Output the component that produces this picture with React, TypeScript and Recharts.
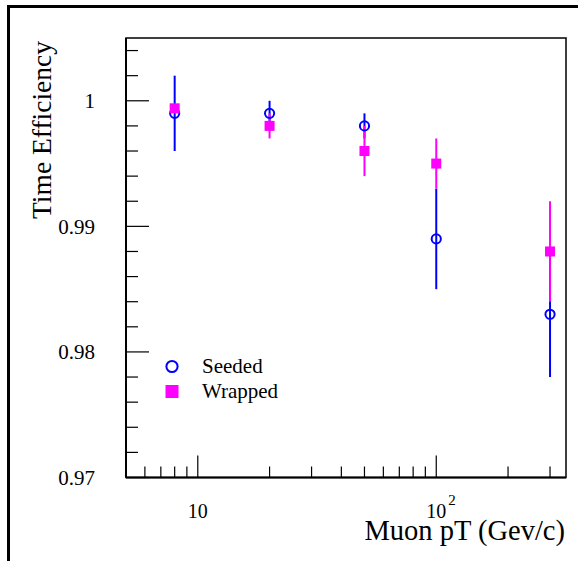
import {
  ComposedChart,
  ErrorBar,
  Legend,
  ReferenceArea,
  Scatter,
  XAxis,
  YAxis,
} from "recharts"

const PT = [8, 20, 50, 100, 300]
const SEEDED = [0.999, 0.999, 0.998, 0.989, 0.983]
const SEEDED_ERR = [0.003, 0.001, 0.001, 0.004, 0.005]
const WRAPPED = [0.9994, 0.998, 0.996, 0.995, 0.988]
const WRAPPED_ERR = [0.0003, 0.001, 0.002, 0.002, 0.004]

const X_TICKS = [6, 7, 8, 9, 10, 20, 30, 40, 50, 60, 70, 80, 90, 100, 200, 300]
const Y_TICKS = [
  0.97, 0.972, 0.974, 0.976, 0.978, 0.98, 0.982, 0.984, 0.986, 0.988, 0.99,
  0.992, 0.994, 0.996, 0.998, 1, 1.002, 1.004,
]

const BLUE = "#0000ff"
const MAGENTA = "#ff00ff"
const FONT = "'Liberation Serif', 'Times New Roman', serif"

const seeded = PT.map((pt, i) => ({ pt, eff: SEEDED[i], err: SEEDED_ERR[i] }))
const wrapped = PT.map((pt, i) => ({ pt, eff: WRAPPED[i], err: WRAPPED_ERR[i] }))

const isDecade = (v: number) => Math.abs(Math.log10(v) - Math.round(Math.log10(v))) < 1e-9
const isMajorY = (v: number) => Math.abs(v * 100 - Math.round(v * 100)) < 1e-6

// ROOT style: ticks point inward, labels only on decades
function XTick({ x, y, payload }: any) {
  const v = payload.value
  const major = isDecade(v)
  const exp = Math.round(Math.log10(v))
  return (
    <g>
      <line x1={x} y1={y} x2={x} y2={y - (major ? 22 : 11)} stroke="#000" strokeWidth={1.2} />
      {major && (
        <text x={x} y={y + 40.5} textAnchor="middle" fontSize={20} fontFamily={FONT} fill="#000">
          10
        </text>
      )}
      {major && exp > 1 && (
        <text x={x + 12} y={y + 27.5} fontSize={15} fontFamily={FONT} fill="#000">
          {exp}
        </text>
      )}
    </g>
  )
}

function YTick({ x, y, payload }: any) {
  const v = payload.value
  const major = isMajorY(v)
  return (
    <g>
      <line x1={x} y1={y} x2={x + (major ? 23 : 12)} y2={y} stroke="#000" strokeWidth={1.2} />
      {major && (
        <text x={x - 31} y={y} dy="0.35em" textAnchor="end" fontSize={21} fontFamily={FONT} fill="#000">
          {Number(v.toFixed(2))}
        </text>
      )}
    </g>
  )
}

function SeededMarker({ cx, cy }: any) {
  return <circle cx={cx} cy={cy} r={4.6} fill="none" stroke={BLUE} strokeWidth={2} />
}

function WrappedMarker({ cx, cy }: any) {
  return <rect x={cx - 5} y={cy - 5} width={10} height={10} fill={MAGENTA} />
}

function LegendBox({ payload }: any) {
  return (
    <div style={{ fontFamily: FONT, fontSize: 21, color: "#000" }}>
      {(payload || []).map((entry: any) => (
        <div key={entry.value} style={{ display: "flex", alignItems: "center", height: 25 }}>
          <svg width={28} height={25}>
            {entry.value === "Seeded" ? (
              <circle cx={14} cy={12.5} r={5.6} fill="none" stroke={BLUE} strokeWidth={2} />
            ) : (
              <rect x={7.5} y={6} width={13} height={13} fill={MAGENTA} />
            )}
          </svg>
          <span style={{ marginLeft: 16, lineHeight: "25px" }}>{entry.value}</span>
        </div>
      ))}
    </div>
  )
}

export default function App() {
  return (
    <div
      style={{
        position: "fixed",
        left: 0,
        top: 0,
        width: 578,
        height: 561,
        overflow: "hidden",
        background: "#fff",
      }}
    >
      <div
        style={{
          position: "absolute",
          left: 7,
          top: 5,
          width: 700,
          height: 700,
          borderLeft: "3px solid #000",
          borderTop: "3px solid #000",
        }}
      />
      <ComposedChart
        width={578}
        height={561}
        margin={{ top: 38, right: 12, bottom: 82.5, left: 125 }}
        style={{ position: "absolute", left: 0, top: 0 }}
      >
        <XAxis
          dataKey="pt"
          type="number"
          scale="log"
          domain={[5, 350]}
          allowDataOverflow
          ticks={X_TICKS}
          interval={0}
          height={1}
          tickSize={0}
          tickMargin={0}
          tickLine={false}
          tick={<XTick />}
          axisLine={{ stroke: "#000", strokeWidth: 2 }}
          label={(props: any) => {
            const vb = props.viewBox
            return (
              <text
                x={vb.x + vb.width - 1}
                y={vb.y + 62}
                textAnchor="end"
                fontSize={28.5}
                fontFamily={FONT}
                fill="#000"
              >
                Muon pT (Gev/c)
              </text>
            )
          }}
        />
        <YAxis
          dataKey="eff"
          type="number"
          domain={[0.97, 1.005]}
          allowDataOverflow
          ticks={Y_TICKS}
          interval={0}
          width={1}
          tickSize={0}
          tickMargin={0}
          tickLine={false}
          tick={<YTick />}
          axisLine={{ stroke: "#000", strokeWidth: 2 }}
          label={(props: any) => {
            const vb = props.viewBox
            const tx = vb.x + vb.width - 75
            const ty = vb.y + 3
            return (
              <text
                x={tx}
                y={ty}
                transform={`rotate(-90, ${tx}, ${ty})`}
                textAnchor="end"
                fontSize={27.5}
                fontFamily={FONT}
                fill="#000"
              >
                Time Efficiency
              </text>
            )
          }}
        />
        <ReferenceArea
          x1={5}
          x2={350}
          y1={0.97}
          y2={1.005}
          fill="none"
          stroke="#000"
          strokeWidth={1.5}
          ifOverflow="visible"
        />
        <Scatter
          name="Seeded"
          data={seeded}
          fill={BLUE}
          shape={<SeededMarker />}
          isAnimationActive={false}
        >
          <ErrorBar dataKey="err" direction="y" width={0} stroke={BLUE} strokeWidth={2} />
        </Scatter>
        <Scatter
          name="Wrapped"
          data={wrapped}
          fill={MAGENTA}
          shape={<WrappedMarker />}
          isAnimationActive={false}
        >
          <ErrorBar dataKey="err" direction="y" width={0} stroke={MAGENTA} strokeWidth={2} />
        </Scatter>
        <Legend
          layout="vertical"
          align="center"
          verticalAlign="middle"
          content={<LegendBox />}
          wrapperStyle={{ left: 158, top: 354, width: "auto", height: "auto" }}
        />
      </ComposedChart>
    </div>
  )
}
